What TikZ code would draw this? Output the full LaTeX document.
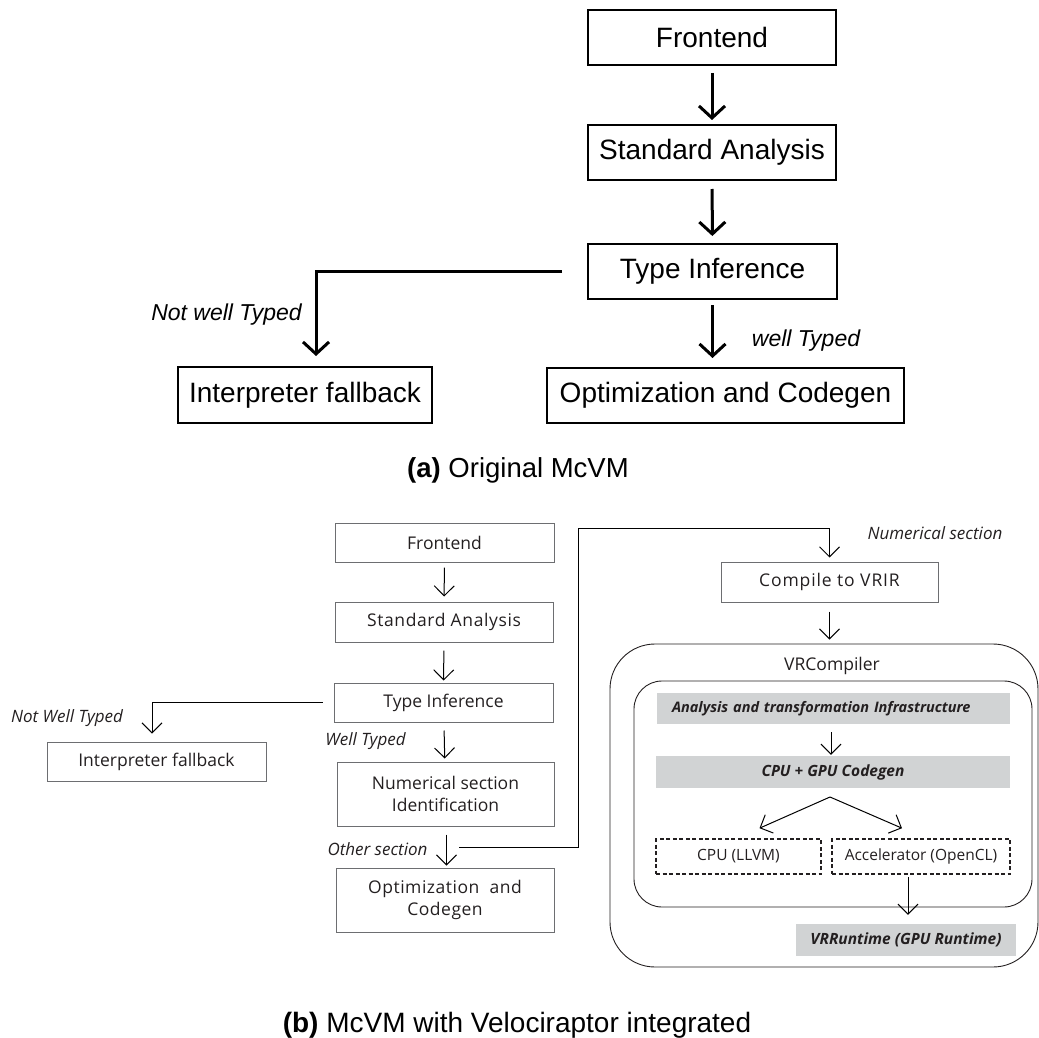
\documentclass[tikz,border=0pt]{standalone}
\usepackage{fontspec}
\usetikzlibrary{arrows.meta}
\newfontfamily\afont{Liberation Sans}
\newfontfamily\bfont{Open Sans}
\definecolor{bargray}{HTML}{D1D3D4}
\definecolor{bline}{HTML}{6D6E71}
\definecolor{btext}{HTML}{231F20}
\begin{document}
\begin{tikzpicture}[x=1pt,y=-1pt,
  abox/.style={draw, line width=2pt, inner sep=0pt, font=\afont\fontsize{28}{30}\selectfont},
  alabel/.style={inner sep=0pt, font=\afont\itshape\fontsize{23}{25}\selectfont},
  aarrow/.style={line width=3pt, -{Straight Barb[length=12pt,width=26pt]}},
  bbox/.style={draw=bline, line width=1pt, inner sep=0pt, align=center, text=btext, font=\bfont\fontsize{17.5}{22}\selectfont},
  blabel/.style={inner sep=0pt, text=btext, font=\bfont\itshape\fontsize{17}{19}\selectfont},
  barrow/.style={line width=1pt, -{Straight Barb[length=10pt,width=20pt]}},
  gbar/.style={fill=bargray, inner sep=0pt, text=btext, font=\bfont\bfseries\itshape\fontsize{15.5}{18}\selectfont},
  dbox/.style={draw=btext, line width=1.6pt, dash pattern=on 4pt off 2.5pt, inner sep=0pt, text=btext, font=\bfont\fontsize{15.5}{18}\selectfont},
  rbox/.style={draw=btext, line width=0.9pt, inner sep=0pt},
  capt/.style={inner sep=0pt, anchor=base, font=\afont\fontsize{27.5}{30}\selectfont}
]
\useasboundingbox (0,0) rectangle (1039,1038);

% ---------- (a) ----------
\node[abox, minimum width=248, minimum height=55] (afe) at (712,37.5) {Frontend};
\node[abox, minimum width=248, minimum height=55] (asa) at (712,152.5) {Standard Analysis};
\node[abox, minimum width=249, minimum height=55] (ati) at (712.5,271.5) {Type Inference};
\node[abox, minimum width=254, minimum height=56] (aip) at (305,395) {Interpreter fallback};
\node[abox, minimum width=357, minimum height=55] (aop) at (725.5,395.5) {Optimization and Codegen};
\node[alabel] (anw) at (226.5,315) {Not well Typed};
\node[alabel] (awt) at (806,341) {well Typed};

\draw[aarrow, shorten <=7pt, shorten >=4pt] (afe) -- (asa);
\draw[aarrow, shorten <=8pt, shorten >=7pt] (asa) -- (ati);
\draw[aarrow, shorten <=5pt, shorten >=9pt] (ati.south) -- (ati.south |- aop.north);
\draw[aarrow, shorten <=25pt, shorten >=10pt] (ati.west) -| ([xshift=11pt]aip.north);

\node[capt] (capa) at (518,477) {\textbf{(a)} Original McVM};

% ---------- (b) ----------
\node[bbox, minimum width=219, minimum height=39] (bfe) at (444.5,542.5) {Frontend};
\node[bbox, minimum width=218, minimum height=40] (bsa) at (444,622) {\addfontfeature{LetterSpace=3.5}Standard Analysis};
\node[bbox, minimum width=219, minimum height=39] (bti) at (443.5,702.5) {Type Inference};
\node[bbox, minimum width=219, minimum height=39] (bip) at (156.5,761.5) {Interpreter fallback};
\node[bbox, minimum width=217, minimum height=64] (bns) at (445.5,794) {Numerical section\\Identification};
\node[bbox, minimum width=218, minimum height=64] (bop) at (445,900) {\addfontfeature{LetterSpace=3}Optimization\ \ and\\\addfontfeature{LetterSpace=3}Codegen};
\node[bbox, minimum width=217, minimum height=40] (bvr) at (829.5,582) {\addfontfeature{LetterSpace=5}Compile to VRIR};

\node[blabel] (bnw) at (67,718) {Not Well Typed};
\node[blabel] (bwt) at (365.5,741) {Well Typed};
\node[blabel] (bos) at (377.5,849) {Other section};
\node[blabel] (bnl) at (935,533) {Numerical section};

\draw[barrow, shorten <=5pt, shorten >=5pt] (bfe) -- (bsa);
\draw[barrow, shorten <=8pt, shorten >=2pt] (bsa) -- (bti);
\draw[barrow, shorten <=8pt, shorten >=3pt] (bti) -- (bns);
\draw[barrow, shorten <=8pt, shorten >=2pt] ([xshift=1pt]bns.south) -- ([xshift=1pt]bns.south |- bop.north);
\draw[barrow, shorten <=11pt, shorten >=8pt] (bti.west) -| ([xshift=-4.5pt]bip.north);

\coordinate (osx) at (459,847);
\coordinate (upc) at (578,528);
\draw[barrow, shorten >=4pt] (osx) -| (upc) -| (bvr.north);

% VRCompiler
\node[rbox, rounded corners=45pt, minimum width=428, minimum height=323] (vrc) at (824,805.5) {};
\node[inner sep=0pt, text=btext, font=\bfont\fontsize{17.5}{20}\selectfont] (vrl) at (832,666) {VRCompiler};
\node[rbox, rounded corners=28pt, minimum width=398, minimum height=226] (inb) at (833,794) {};
\node[gbar, minimum width=353, minimum height=31, text width=323pt, inner xsep=15pt, align=left, font=\bfont\bfseries\itshape\fontsize{14.5}{18}\selectfont] (ban) at (833.5,708.5) {Analysis and transformation Infrastructure};
\node[gbar, minimum width=354, minimum height=32] (bcg) at (833,772) {CPU + GPU Codegen};
\node[dbox, minimum width=165, minimum height=35] (bcpu) at (738.5,856.5) {CPU (LLVM)};
\node[dbox, minimum width=178, minimum height=35] (bacc) at (921,856.5) {Accelerator (OpenCL)};
\node[gbar, minimum width=220, minimum height=32] (bvrr) at (906,940) {VRRuntime (GPU Runtime)};

\draw[barrow, shorten <=9pt, shorten >=4pt] (bvr) -- (bvr |- vrc.north);
\draw[barrow, shorten <=8pt, shorten >=1pt] ([xshift=-2.5pt]ban.south) -- ([xshift=-2.5pt]ban.south |- bcg.north);
\coordinate (spl) at (830,797);
\draw[barrow] (spl) -- ([xshift=21pt,yshift=10pt]bcpu.north);
\draw[barrow] (spl) -- ([xshift=-19pt,yshift=10pt]bacc.north);
\draw[barrow, shorten <=2pt, shorten >=9pt] ([xshift=-13pt]bacc.south) -- ([xshift=-13pt]bacc.south |- bvrr.north);

\node[capt, font=\afont\fontsize{28}{30}\selectfont] (capb) at (517,1032) {\textbf{(b)} McVM with Velociraptor integrated};
\end{tikzpicture}
\end{document}
